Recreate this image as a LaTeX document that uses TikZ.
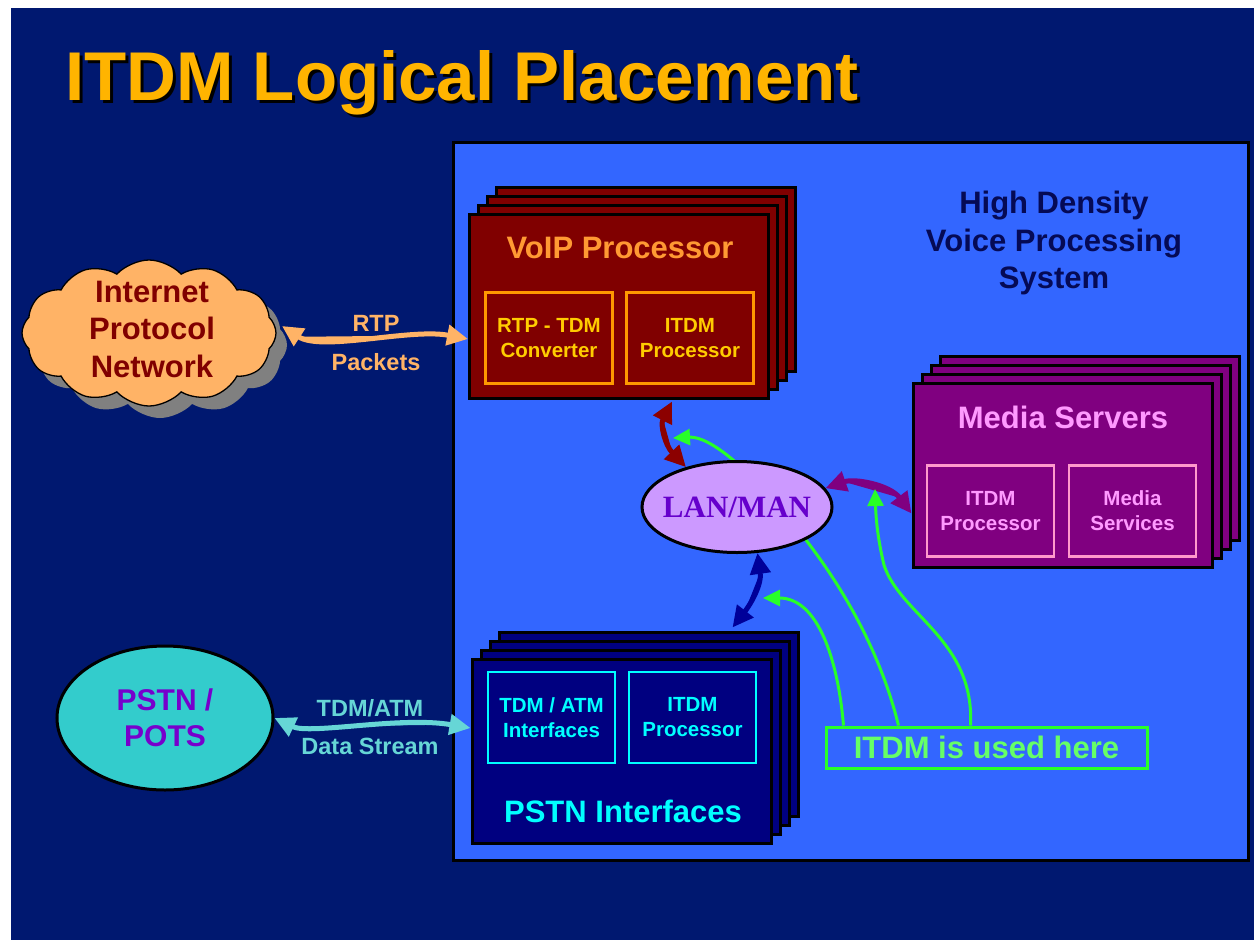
\documentclass[tikz,border=0pt]{standalone}
\usepackage{fontspec}
\setmainfont{Liberation Sans}
\newfontfamily\lanserif{Liberation Serif}
\usetikzlibrary{shapes.geometric,shapes.symbols,arrows.meta,calc}

% colours
\definecolor{slidebg}{RGB}{0,24,112}
\definecolor{sysblue}{RGB}{51,102,255}
\definecolor{titleorange}{RGB}{255,180,0}
\definecolor{sysnavy}{RGB}{5,10,85}
\definecolor{voipred}{RGB}{128,0,0}
\definecolor{voiptitle}{RGB}{255,153,51}
\definecolor{voipinner}{RGB}{255,153,0}
\definecolor{voiptext}{RGB}{255,204,0}
\definecolor{cloudorange}{RGB}{255,179,102}
\definecolor{cloudtext}{RGB}{128,0,0}
\definecolor{lanfill}{RGB}{204,153,255}
\definecolor{lantext}{RGB}{102,0,204}
\definecolor{mediapurple}{RGB}{128,0,128}
\definecolor{mediatext}{RGB}{255,153,255}
\definecolor{mediainner}{RGB}{255,153,204}
\definecolor{pstnnavy}{RGB}{0,0,128}
\definecolor{pstncyan}{RGB}{0,255,255}
\definecolor{potsteal}{RGB}{51,204,204}
\definecolor{potstext}{RGB}{119,0,204}
\definecolor{tdmteal}{RGB}{102,214,214}
\definecolor{itdmgreen}{RGB}{40,255,40}
\definecolor{itdmtext}{RGB}{102,255,102}
\definecolor{linkred}{RGB}{140,0,0}
\definecolor{linkpurple}{RGB}{128,0,128}
\definecolor{linknavy}{RGB}{0,0,153}

% fonts
\newcommand{\ftitle}{\fontsize{69}{80}\selectfont\bfseries}
\newcommand{\fbig}{\fontsize{31}{37.5}\selectfont\bfseries}
\newcommand{\fmid}{\fontsize{23.5}{38.5}\selectfont\bfseries}
\newcommand{\fsmall}{\fontsize{20.5}{25}\selectfont\bfseries}
\newcommand{\flan}{\lanserif\fontsize{31}{37}\selectfont\bfseries}

\tikzset{
  card/.style={draw=black, line width=3pt, minimum width=299pt, minimum height=184pt, inner sep=0pt},
  innerbox/.style={draw, line width=2.5pt, minimum width=127pt, minimum height=91pt, inner sep=0pt, align=center, font=\fsmall},
  biglink/.style={line width=5pt, {Triangle[length=21pt,width=20pt]}-{Triangle[length=21pt,width=20pt]}},
  itdmlink/.style={draw=itdmgreen, line width=3pt},
  itdmtip/.style={-{Triangle[length=17pt,width=16pt]}},
  ipcloudshape/.style={cloud, cloud puffs=12, cloud puff arc=95, minimum width=254pt, minimum height=146pt, inner sep=0pt},
}

\begin{document}
\begin{tikzpicture}[x=1pt,y=-1pt]
\useasboundingbox (0,0) rectangle (1254,940);
\fill[white] (0,0) rectangle (1254,940);
\fill[slidebg] (11,8) rectangle (1254,940);

% title with drop shadow
\node[anchor=base west, font=\ftitle, text=black, inner sep=0pt] (titleshadow) at (68,103) {ITDM Logical Placement};
\node[anchor=base west, font=\ftitle, text=titleorange, inner sep=0pt] (title) at (65,100) {ITDM Logical Placement};

% the voice processing system
\node[draw=black, line width=3pt, fill=sysblue, minimum width=795pt, minimum height=718pt, inner sep=0pt] (system) at (850.5,501) {};
\node[align=center, text=sysnavy, font=\fbig] (systitle) at (1054,243) {High Density\\Voice Processing\\System};

% internet cloud
\node[ipcloudshape, fill=gray, draw=none] (ipcloudshadow) at (160,345) {};
\node[ipcloudshape, fill=cloudorange, draw=black, line width=1.3pt] (ipcloud) at (149,333) {};
\node[align=center, text=cloudtext, font=\fbig] (ipcloudlabel) at (152,329) {Internet\\Protocol\\Network};

% PSTN / POTS
\node[ellipse, draw=black, line width=3pt, fill=potsteal, minimum width=216pt, minimum height=144pt, inner sep=0pt, align=center, text=potstext, font=\fontsize{30}{36}\selectfont\bfseries] (pots) at (165,718) {PSTN /\\POTS};

% VoIP processor stack
\foreach \k in {3,2,1}
  \node[card, fill=voipred] (voip\k) at ($(619,306)+(9*\k,-9*\k)$) {};
\node[card, fill=voipred] (voip) at (619,306) {};
\node[anchor=base, text=voiptitle, font=\fbig] (voiplabel) at (620,258) {VoIP Processor};
\node[innerbox, draw=voipinner, text=voiptext] (rtptdm) at (549,338) {RTP - TDM\\Converter};
\node[innerbox, draw=voipinner, text=voiptext] (voipitdm) at (690,338) {ITDM\\Processor};

% media server stack
\foreach \k in {3,2,1}
  \node[card, fill=mediapurple] (media\k) at ($(1062.5,475.5)+(9*\k,-9*\k)$) {};
\node[card, fill=mediapurple] (media) at (1062.5,475.5) {};
\node[anchor=base, text=mediatext, font=\fbig] (medialabel) at (1063,428) {Media Servers};
\node[innerbox, draw=mediainner, text=mediatext] (mediaitdm) at (990.5,511) {ITDM\\Processor};
\node[innerbox, draw=mediainner, text=mediatext] (mediasvc) at (1132.5,511) {Media\\Services};

% PSTN interface stack
\foreach \k in {3,2,1}
  \node[card, fill=pstnnavy] (pstn\k) at ($(621.5,751)+(9*\k,-9*\k)$) {};
\node[card, fill=pstnnavy] (pstn) at (621.5,751) {};
\node[anchor=base, text=pstncyan, font=\fbig] (pstnlabel) at (623,822) {PSTN Interfaces};
\node[innerbox, draw=pstncyan, text=pstncyan] (tdmatm) at (551.5,717.5) {TDM / ATM\\Interfaces};
\node[innerbox, draw=pstncyan, text=pstncyan] (pstnitdm) at (692.5,717.5) {ITDM\\Processor};

% ITDM callout box
\node[draw=itdmgreen, line width=3pt, minimum width=321pt, minimum height=41pt, inner sep=0pt, text=itdmtext, font=\fbig] (itdm) at (986.5,747.5) {ITDM is used here};

% free ends of the ITDM pointers
\coordinate (redtap) at (673,438);
\coordinate (navytap) at (763,598);
\coordinate (purpletap) at (875,489);

% pointer that runs behind the LAN/MAN ellipse
\draw[itdmlink, itdmtip] ($(itdm.north west)+(74,0)$) .. controls (880,650) and (840,580) .. (790,520)
  .. controls (750,470) and (710,436) .. (redtap);

% LAN / MAN
\node[ellipse, draw=black, line width=3pt, fill=lanfill, minimum width=190pt, minimum height=91pt, inner sep=0pt, text=lantext, font=\flan] (lan) at (737,507) {\makebox[0pt][c]{LAN/MAN}};

% outside links
\draw[biglink, draw=cloudorange, fill=cloudorange] ($(ipcloud.center)+(133,-7)$) .. controls (322,352) and (410,328) .. ($(voip.west)+(0,33)$);
\node[align=center, text=cloudorange, font=\fmid] (rtplabel) at (376,343) {RTP\\Packets};
\draw[biglink, draw=tdmteal, fill=tdmteal] (pots.east) .. controls (310,735) and (400,716) .. ($(pstn.west)+(0,-23)$);
\node[align=center, text=tdmteal, font=\fmid] (tdmlabel) at (370,727) {TDM/ATM\\Data Stream};

% links into the LAN / MAN
\draw[biglink, draw=linkred, fill=linkred] ($(voip.south)+(53,2)$) .. controls (660,425) and (665,445) .. (lan.142);
\draw[biglink, draw=linkpurple, fill=linkpurple] (lan.12) .. controls (855,478) and (890,485) .. ($(media.west)+(0,38)$);
\draw[biglink, draw=linknavy, fill=linknavy] (lan.-66) .. controls (762,585) and (750,605) .. ($(pstn3.north)+(84,-3)$);

% remaining ITDM pointers
\draw[itdmlink, itdmtip] ($(itdm.north west)+(19,0)$) .. controls (838,660) and (818,598) .. (navytap);
\draw[itdmlink, itdmtip] ($(itdm.north west)+(146,0)$) .. controls (975,640) and (900,615) .. (884,565)
  .. controls (878,540) and (876,520) .. (purpletap);
\end{tikzpicture}
\end{document}
